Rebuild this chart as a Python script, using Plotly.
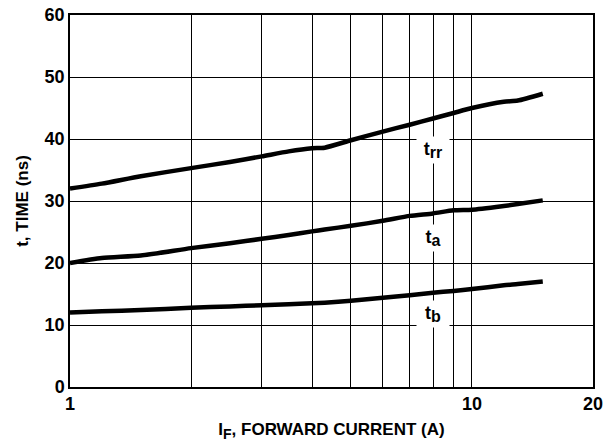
import math
import plotly.graph_objects as go

# Data
current = [1, 1.2, 1.5, 2, 2.5, 3, 3.5, 4, 4.3, 5, 6, 7, 8, 9, 10, 12, 13, 15]
t_rr = [32, 32.8, 34.0, 35.3, 36.3, 37.2, 38.0, 38.5, 38.6, 39.8, 41.2, 42.3, 43.3, 44.2, 45.0, 46.0, 46.2, 47.3]
t_a = [20, 20.8, 21.2, 22.4, 23.2, 23.9, 24.5, 25.1, 25.4, 26.0, 26.8, 27.6, 28.0, 28.5, 28.6, 29.2, 29.5, 30.1]
t_b = [12, 12.2, 12.4, 12.8, 13.0, 13.2, 13.35, 13.5, 13.6, 13.9, 14.4, 14.8, 15.2, 15.5, 15.8, 16.4, 16.6, 17.0]

grid_x = [1, 2, 3, 4, 5, 6, 7, 8, 9, 10, 20]
x_tick_text = ["1", "", "", "", "", "", "", "", "", "10", "20"]
y_ticks = [0, 10, 20, 30, 40, 50, 60]

labels = ["t<sub><span style='font-size:16px'>rr</span></sub>",
          "t<sub><span style='font-size:16px'>a</span></sub>",
          "t<sub><span style='font-size:16px'>b</span></sub>"]
label_x = [8, 8, 8]
label_y = [38.2, 24.0, 11.8]

FONT = "Arial, 'Liberation Sans', Helvetica, sans-serif"

fig = go.Figure()
for ys in (t_rr, t_a, t_b):
    fig.add_trace(go.Scatter(x=current, y=ys, mode="lines",
                             line=dict(color="black", width=4.5, shape="spline", smoothing=0.6),
                             showlegend=False, hoverinfo="skip"))

for txt, lx, ly in zip(labels, label_x, label_y):
    fig.add_annotation(x=math.log10(lx), y=ly, xref="x", yref="y",
                       text="<b>" + txt + "</b>", showarrow=False,
                       font=dict(family=FONT, size=18, color="black"),
                       bgcolor="white", borderpad=0, width=32, height=26)

fig.update_layout(
    width=603, height=442,
    margin=dict(l=70, r=10, t=15, b=55, autoexpand=False),
    paper_bgcolor="white", plot_bgcolor="white",
    font=dict(family=FONT, size=17, color="black"),
    xaxis=dict(type="log", range=[0, math.log10(20)], automargin=False,
               tickmode="array", tickvals=grid_x,
               ticktext=["<b>%s</b>" % t if t else "" for t in x_tick_text],
               tickfont=dict(size=18), ticklabeloverflow="allow",
               showgrid=True, gridcolor="black", gridwidth=1,
               showline=True, linecolor="black", linewidth=1.5, mirror=True,
               ticks="", zeroline=False,
               title=dict(text="<b>I<sub><span style='font-size:14px'>F</span></sub>, FORWARD CURRENT (A)</b>",
                          standoff=12, font=dict(family=FONT, size=17))),
    yaxis=dict(range=[0, 60], tickmode="array", tickvals=y_ticks, automargin=False,
               ticktext=["<b>%d</b>" % v for v in y_ticks],
               tickfont=dict(size=18), ticklabeloverflow="allow",
               showgrid=True, gridcolor="black", gridwidth=1,
               showline=True, linecolor="black", linewidth=1.5, mirror=True,
               ticks="", zeroline=False,
               title=dict(text="<b>t, TIME (ns)</b>", standoff=12,
                          font=dict(family=FONT, size=17))),
)

fig.write_html("out.html", config={"displayModeBar": False},
               post_script="document.body.style.margin='0';")
